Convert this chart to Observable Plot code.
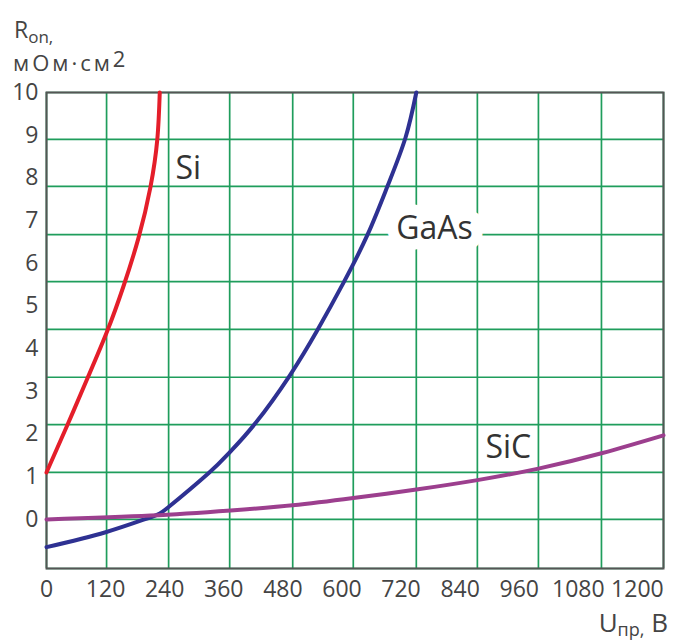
<!DOCTYPE html>
<html><head><meta charset="utf-8">
<script src="https://cdn.jsdelivr.net/npm/d3@7"></script>
<script src="https://cdn.jsdelivr.net/npm/@observablehq/plot@0.6"></script>
<style>body{margin:0;background:#fff;} #chart{width:674px;height:640px;}</style>
</head><body><div id="chart"></div>
<script>
// Tick labels
const xTicks = [0, 120, 240, 360, 480, 600, 720, 840, 960, 1080, 1200];
const yTicks = [0, 1, 2, 3, 4, 5, 6, 7, 8, 9, 10];
// Grid lines (in axis-label units)
const gridX = [0, 122, 248, 372, 500, 623, 751, 875, 999, 1127, 1253];
const gridY = [-1.15, 0, 1.10, 2.22, 3.33, 4.45, 5.57, 6.67, 7.80, 8.90, 10];
// Series
const siU = [0, 42, 83, 123, 156, 187, 211, 225, 230];
const siR = [1.10, 2.20, 3.30, 4.40, 5.45, 6.60, 7.78, 8.90, 10.0];
const gaasU = [0, 120, 211, 248, 329, 372, 424, 494, 550, 603, 652, 693, 729, 751];
const gaasR = [-0.65, -0.30, 0.05, 0.29, 1.08, 1.57, 2.25, 3.37, 4.43, 5.54, 6.67, 7.82, 8.94, 10.0];
const sicU = [0, 211, 374, 500, 623, 751, 875, 999, 1127, 1253];
const sicR = [0.00, 0.09, 0.21, 0.33, 0.50, 0.70, 0.92, 1.19, 1.55, 1.97];
const names = ["Si", "GaAs", "SiC"];
const colors = ["#e41e2a", "#2e3192", "#9c3f8e"];
// Curve labels
const labelText = ["Si", "GaAs", "SiC"];
const labelU = [288, 788, 938];
const labelR = [8.22, 6.81, 1.69];

const seriesU = [siU, gaasU, sicU], seriesR = [siR, gaasR, sicR];
const rows = names.flatMap((n, k) => seriesU[k].map((u, i) => ({name: n, u, r: seriesR[k][i]})));
const labels = labelText.map((t, i) => ({text: t, u: labelU[i], r: labelR[i]}));

const svg = Plot.plot({
  width: 674, height: 640,
  marginTop: 92, marginRight: 11, marginBottom: 72, marginLeft: 46,
  style: {fontFamily: "'Open Sans', sans-serif", fontSize: "23px", color: "#444", background: "#fff"},
  x: {domain: [0, 1253]},
  y: {domain: [-1.15, 10]},
  color: {domain: names, range: colors},
  marks: [
    Plot.ruleX(gridX, {stroke: "#1f9d5c", strokeWidth: 1.7}),
    Plot.ruleY(gridY, {stroke: "#1f9d5c", strokeWidth: 1.7}),
    Plot.text(labels.filter(d => d.text === "GaAs"), {x: "u", y: "r", text: "text", fontSize: 32, fill: "white", stroke: "white", strokeWidth: 22, strokeLinejoin: "round"}),
    Plot.frame({stroke: "#555", strokeWidth: 2}),
    Plot.line(rows, {x: "u", y: "r", z: "name", stroke: "name", strokeWidth: 4, curve: "natural"}),
    Plot.text(labels, {x: "u", y: "r", text: "text", fontSize: 32, fill: "#333"}),
    Plot.axisX({ticks: xTicks, tickFormat: d => String(d), tickSize: 0, tickPadding: 12, label: null}),
    Plot.axisY({ticks: yTicks, tickFormat: d => String(d), tickSize: 0, tickPadding: 8, label: null})
  ]
});
document.getElementById("chart").appendChild(svg);

const s = d3.select(svg);
const t1 = s.append("text").attr("x", 14).attr("y", 38).attr("fill", "#444").attr("text-anchor", "start").style("font-size", "23px");
t1.append("tspan").text("R");
t1.append("tspan").attr("dy", 5).style("font-size", "17px").text("on,");
const t2 = s.append("text").attr("x", 13).attr("y", 71).attr("fill", "#444").attr("text-anchor", "start").style("font-size", "22px").style("letter-spacing", "3px");
t2.append("tspan").text("мОм·см");
t2.append("tspan").attr("dy", -4).text("2");
const t3 = s.append("text").attr("x", 668).attr("y", 632).attr("fill", "#444").attr("text-anchor", "end").style("font-size", "26px");
t3.append("tspan").text("U");
t3.append("tspan").attr("dy", 4).style("font-size", "18px").text("пр,");
t3.append("tspan").attr("dy", -4).text(" В");
</script>
</body></html>
